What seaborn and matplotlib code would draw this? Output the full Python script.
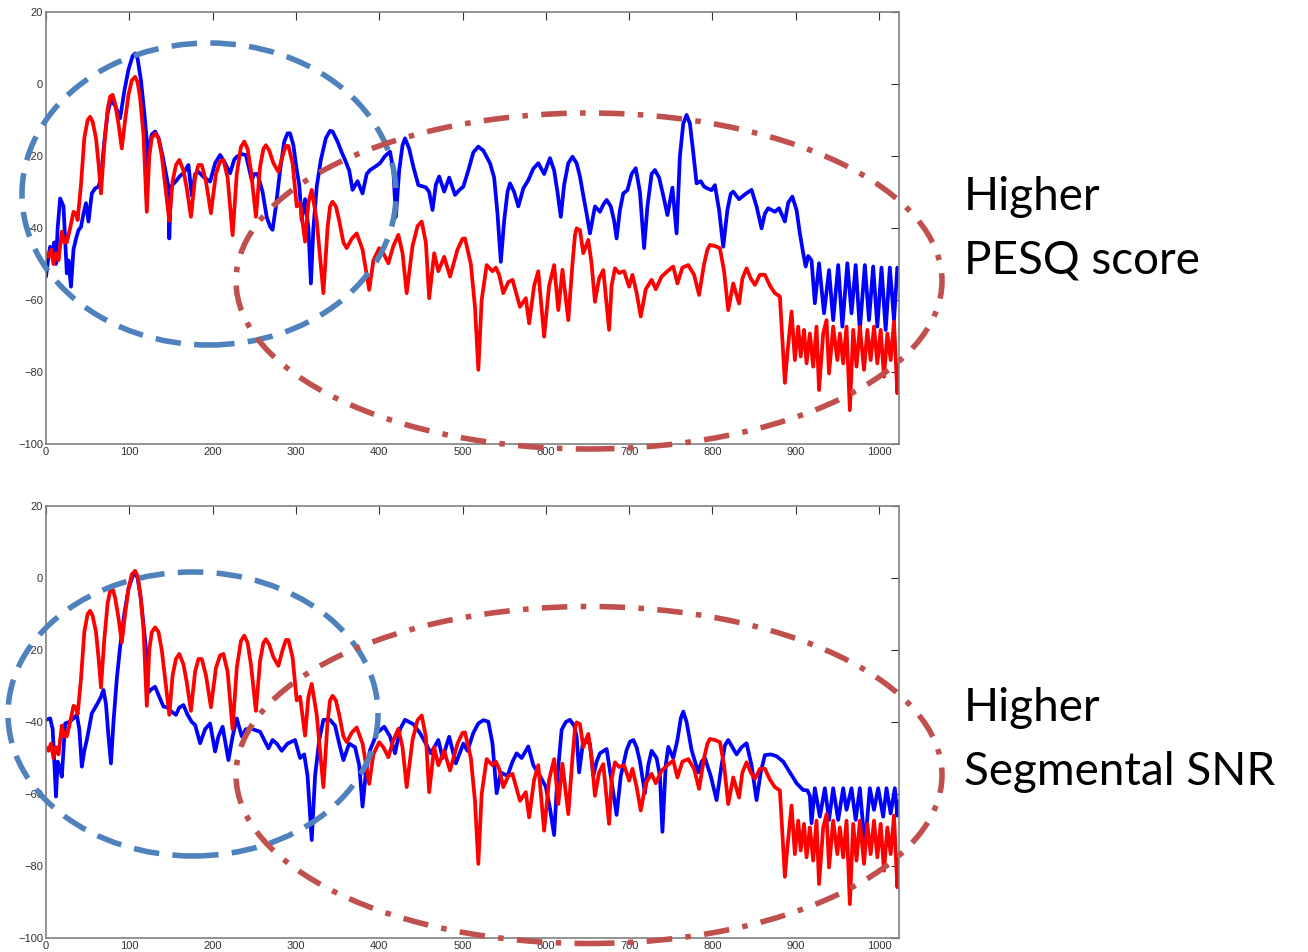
import matplotlib
matplotlib.use("Agg")
import matplotlib.pyplot as plt
from matplotlib.patches import Ellipse
import seaborn as sns
import pandas as pd

# ---------------- data ----------------
red_points = [
    (0, -47), (3, -48), (6, -46), (9, -50), (12, -47), (15, -49), (19, -41), (22, -44),
    (25, -44), (29, -40), (33, -35.5), (36, -36), (38, -37.8), (42, -28), (46, -15),
    (50, -10), (53, -9.1), (56, -10.5), (60, -15), (63, -22), (66, -30.4), (70, -17),
    (74, -7), (77, -3.5), (80, -3), (83, -5.5), (87, -11), (91, -17.9), (95, -10),
    (99, -3), (103, 1), (107, 2), (110, 0.5), (113, -4), (117, -14), (121, -35.5),
    (124, -20), (127, -15), (131, -13.7), (135, -15), (139, -20), (143, -28), (148, -38),
    (152, -27), (156, -22.5), (160, -21.1), (165, -24), (169, -29), (174, -36.9),
    (179, -26), (183, -22.5), (187, -22.5), (192, -27), (198, -35.9), (204, -25),
    (209, -21.5), (213, -21.1), (218, -26), (224, -42), (229, -25), (234, -17.5),
    (238, -16), (242, -18), (246, -24), (252, -36.9), (257, -23), (261, -18),
    (264, -17), (268, -18.5), (273, -22), (279, -24.4), (284, -20), (288, -17.2),
    (291, -17.2), (296, -22), (301, -34), (305, -33), (311, -43.8), (315, -33),
    (319, -29.4), (325, -38), (333, -58.1), (338, -40), (341, -34), (344, -32.7),
    (348, -34), (352, -38), (357, -44), (361, -45.6), (367, -43), (373, -41.5),
    (380, -46), (388, -57.2), (393, -49), (400, -45.6), (405, -47), (411, -49.8),
    (417, -45), (423, -41.9), (428, -47), (433, -58.1), (440, -45), (446, -39.5),
    (451, -38.2), (456, -44), (460, -59.5), (466, -47), (471, -52), (478, -48),
    (485, -53.5), (494, -46), (500, -43), (503, -42.9), (510, -50), (515, -62),
    (519, -79.4), (523, -60), (529, -50.3), (536, -52), (540, -51), (544, -53),
    (549, -58.1), (555, -55), (560, -54.4), (569, -61.9), (576, -59.5), (580, -66.5),
    (586, -56), (591, -52), (598, -70.2), (604, -56), (610, -50.3), (615, -62.8),
    (620, -51.6), (627, -65.6), (632, -50), (635, -42), (637, -40.1), (641, -40.6),
    (645, -47), (651, -43.3), (655, -50), (659, -60.5), (664, -54), (669, -51.7),
    (676, -68.3), (679, -56), (683, -51.2), (688, -52.5), (694, -52), (700, -56.3),
    (704, -53), (709, -58), (714, -64.6), (720, -57), (727, -54.4), (732, -57),
    (739, -53.5), (746, -52), (753, -50.7), (758, -55.4), (764, -51), (771, -50.3),
    (778, -53), (784, -58.6), (790, -50), (794, -46), (797, -44.7), (803, -45),
    (809, -45.6), (814, -52), (819, -62.8), (825, -55.4), (832, -61), (836, -54),
    (841, -51.2), (846, -54), (851, -55.8), (857, -53), (863, -53), (869, -56),
    (875, -58.1), (881, -59), (887, -83), (890, -74.8), (895, -63.2), (899, -76.7),
    (903, -67.4), (906, -75.7), (910, -68.3), (913, -77.6), (917, -69.3), (921, -78.5),
    (925, -67.4), (928, -85), (933, -69.3), (937, -65.6), (940, -80.4), (945, -67.4),
    (950, -76.7), (953, -69.3), (957, -77.6), (961, -67.4), (965, -90.6), (969, -68.3),
    (973, -78.5), (977, -67.4), (982, -79.4), (986, -68.3), (990, -76.7), (994, -67.4),
    (998, -77.6), (1002, -68.3), (1006, -81.3), (1010, -69.3), (1014, -76.7),
    (1018, -66), (1022, -85.9), (1024, -78),
]

blue_top_points = [
    (0, -53.5), (3, -48), (5, -45.2), (8, -47), (10, -44), (12, -50), (14, -40),
    (17, -31.8), (21, -34), (25, -52.6), (27, -49), (30, -56.3), (33, -46), (36, -43),
    (39, -40.6), (42, -39.7), (45, -36), (48, -33.1), (51, -38.2), (55, -30.4),
    (59, -29), (63, -28.5), (66, -26), (70, -16), (74, -8), (78, -4.4), (83, -6),
    (89, -9.5), (94, -2), (99, 4), (104, 7.8), (107, 8.5), (110, 7), (114, 1),
    (118, -8), (121, -15.6), (122, -24), (124, -18), (127, -14), (131, -13.2),
    (135, -15), (140, -20), (145, -26), (147, -28.5), (148, -42.9), (150, -28.5),
    (156, -27), (161, -25.5), (165, -24.8), (171, -22.5), (175, -31), (179, -25),
    (183, -24.4), (190, -26), (197, -27.1), (203, -22), (209, -19.7), (215, -22),
    (221, -24.8), (226, -21), (229, -20.2), (235, -19.5), (240, -19.7), (247, -26.7),
    (250, -25), (254, -25), (260, -30), (265, -37), (269, -39.6), (272, -40.5),
    (276, -34), (281, -24), (286, -16), (290, -13.7), (293, -13.7), (297, -17),
    (301, -23.9), (304, -28), (307, -37.8), (311, -32), (315, -40), (318, -55.4),
    (321, -40), (325, -28.5), (330, -21), (336, -15), (341, -13), (344, -13.2),
    (350, -16), (355, -19), (359, -21.1), (364, -24), (368, -29.4), (374, -27),
    (380, -30.4), (385, -25), (389, -23.9), (395, -23), (401, -22), (407, -20),
    (413, -18.8), (417, -24), (420, -36.9), (424, -24), (428, -17), (431, -15.1),
    (436, -18), (441, -23), (447, -28.1), (456, -28.7), (460, -30), (464, -35),
    (468, -28), (472, -25.7), (478, -29.9), (484, -26), (491, -30.8), (496, -29.5),
    (501, -28.5), (507, -24), (513, -19), (519, -17.4), (525, -18.5), (533, -22),
    (538, -26), (542, -36), (546, -49.4), (550, -38), (554, -30), (557, -27.6),
    (562, -30), (567, -34), (573, -29), (579, -26.7), (585, -23.5), (591, -22),
    (598, -25), (605, -20.6), (610, -24), (614, -30), (618, -36.9), (622, -28),
    (627, -22), (632, -20.2), (637, -22), (641, -25.7), (645, -31), (649, -36),
    (653, -41.5), (659, -34), (665, -35.5), (669, -33.5), (673, -32.2), (678, -34),
    (682, -38), (685, -42.9), (689, -35), (693, -30.4), (698, -29.5), (703, -25),
    (708, -23.4), (713, -30), (718, -45.6), (722, -34), (727, -25), (731, -23.9),
    (736, -26), (741, -31), (746, -36.4), (752, -28.8), (757, -41.5), (761, -20),
    (765, -11), (769, -8.6), (773, -11), (777, -19), (781, -27.6), (786, -27),
    (790, -28.5), (794, -29), (799, -29.5), (803, -28.1), (808, -35), (813, -45.2),
    (818, -35), (822, -30.5), (825, -29.9), (832, -32), (840, -30.5), (847, -29.4),
    (853, -34), (859, -40.1), (863, -36), (867, -34.5), (875, -35.5), (880, -34.5),
    (887, -38.2), (891, -33), (896, -31.3), (901, -35), (905, -41.5), (909, -47),
    (912, -50.7), (915, -47.8), (919, -49), (923, -60.9), (928, -49.8), (934, -63.7),
    (940, -51.7), (945, -65.6), (951, -50.3), (956, -67.4), (962, -49.8), (967, -63.7),
    (972, -50.3), (977, -68.3), (983, -50.3), (988, -65.6), (993, -50.7), (998, -67.4),
    (1003, -51), (1008, -68.3), (1013, -51), (1018, -65.6), (1022, -51), (1024, -52),
]

blue_bottom_points = [
    (0, -39.4), (5, -39), (8, -42), (12, -60.7), (14, -51), (17, -53), (19, -55.2),
    (23, -40.4), (28, -40), (33, -39), (37, -38), (40, -42), (43, -52.4), (46, -48),
    (49, -45), (55, -37.6), (62, -34.8), (66, -33), (69, -31.1), (72, -35), (75, -44),
    (78, -51.5), (81, -40), (85, -28), (89, -19.1), (94, -10), (99, -3), (104, 0.5),
    (107, 1.3), (110, 0), (114, -6), (118, -15), (121, -21.9), (122, -32), (126, -31),
    (131, -30.2), (136, -33), (141, -35.7), (146, -36), (150, -37), (156, -38),
    (160, -36), (165, -35.3), (170, -38), (175, -40), (179, -40.8), (185, -45.9),
    (191, -42), (197, -40.4), (203, -48.2), (207, -44), (212, -41.3), (219, -50.6),
    (224, -44), (229, -39), (235, -44), (240, -42), (248, -42), (257, -42.7),
    (262, -45), (267, -47.3), (272, -45), (277, -46), (283, -48), (290, -46),
    (299, -45), (305, -50), (310, -49), (314, -55), (319, -72.8), (323, -55),
    (328, -45), (333, -39.4), (341, -39.4), (347, -41), (352, -46), (357, -50.6),
    (364, -46), (371, -47), (376, -52), (380, -63.5), (384, -54), (389, -47.8),
    (394, -45), (397, -43.1), (406, -41.3), (413, -44), (419, -48.7), (425, -42),
    (431, -39.4), (441, -40.6), (449, -43.1), (456, -46), (462, -48.7), (471, -45),
    (476, -50), (484, -44.1), (492, -51.5), (501, -46), (506, -48), (513, -43),
    (519, -40.4), (525, -39.5), (531, -39.9), (536, -46), (541, -59.8), (546, -54),
    (554, -55), (560, -51), (565, -48.7), (571, -50), (579, -46.8), (585, -52),
    (593, -55), (600, -58), (605, -64), (610, -71.4), (614, -55), (619, -42.2),
    (624, -40), (629, -39.4), (634, -41), (637, -44), (640, -54), (645, -45),
    (653, -46), (657, -55), (661, -51), (665, -48.7), (673, -47.5), (678, -55),
    (685, -65.8), (690, -55), (697, -47.8), (701, -45.5), (705, -45), (709, -47),
    (713, -51), (719, -59.8), (723, -52), (727, -48), (733, -50), (737, -55),
    (740, -70.5), (744, -52), (747, -46.9), (753, -50), (758, -45), (762, -39),
    (765, -37.1), (769, -40), (775, -47.8), (783, -54), (787, -51), (791, -50),
    (798, -55), (805, -61.7), (811, -52), (815, -46.5), (819, -45), (824, -47),
    (829, -49), (835, -47), (841, -45.9), (847, -52), (853, -61.7), (858, -54),
    (863, -49.2), (870, -49), (877, -49.5), (885, -51), (893, -54), (901, -57),
    (909, -58.9), (914, -59), (917, -60.5), (919, -68.1), (923, -58.4), (929, -66.3),
    (935, -58.4), (940, -67.2), (945, -58.4), (951, -67.2), (957, -58.4), (961, -64.4),
    (967, -58.4), (972, -67.2), (977, -58.4), (983, -74.6), (989, -58.4), (994, -64.4),
    (999, -58.4), (1005, -66.3), (1009, -58.4), (1014, -65.4), (1019, -58.4),
    (1022, -66), (1024, -62),
]

x_ticks = [0, 100, 200, 300, 400, 500, 600, 700, 800, 900, 1000]
y_ticks = [20, 0, -20, -40, -60, -80, -100]
panel_texts = [("Higher", "PESQ score"), ("Higher", "Segmental SNR")]

# ---------------- figure ----------------
sns.set_style("white")
plt.rcParams["font.family"] = ["Liberation Sans", "DejaVu Sans"]

W, H = 1308, 952
fig = plt.figure(figsize=(W / 100, H / 100), dpi=100)
fig.patch.set_facecolor("white")

def px_axes(left, top, right, bottom):
    return fig.add_axes([left / W, 1 - bottom / H, (right - left) / W, (bottom - top) / H])

ax_top = px_axes(46, 12, 899, 444)
ax_bot = px_axes(46, 506, 899, 938)

red_df = pd.DataFrame(red_points, columns=["bin", "db"])
blue_dfs = [pd.DataFrame(blue_top_points, columns=["bin", "db"]),
            pd.DataFrame(blue_bottom_points, columns=["bin", "db"])]

for ax, bdf in zip([ax_top, ax_bot], blue_dfs):
    sns.lineplot(data=bdf, x="bin", y="db", ax=ax, color="#0000ff", lw=2.7,
                 estimator=None, sort=False, solid_joinstyle="round")
    sns.lineplot(data=red_df, x="bin", y="db", ax=ax, color="#ff0000", lw=2.7,
                 estimator=None, sort=False, solid_joinstyle="round")
    ax.set_xlim(0, 1024)
    ax.set_ylim(-100, 20)
    ax.set_xticks(x_ticks)
    ax.set_yticks(y_ticks)
    ax.set_xlabel("")
    ax.set_ylabel("")
    ax.grid(False)
    for s in ax.spines.values():
        s.set_visible(True)
        s.set_color("#808080")
        s.set_linewidth(1.2)
    ax.tick_params(direction="in", length=6, width=0.8, color="#333333",
                   labelsize=8, labelcolor="#333333", pad=2,
                   top=True, right=True)

# ---------------- ellipses (annotations, pixel geometry) ----------------
def ell(cx, cy, w, h, color, ls):
    e = Ellipse((cx / W, 1 - cy / H), w / W, h / H, transform=fig.transFigure,
                fill=False, edgecolor=color, linewidth=4.0, linestyle=ls,
                capstyle="butt", zorder=5)
    fig.add_artist(e)

blue_ls = (0, (4.6, 2.4))
red_ls = (0, (4.6, 2.4, 1.0, 2.4))
ell(209, 194, 374, 302, "#4f81bd", blue_ls)
ell(589, 281, 706, 336, "#c0504d", red_ls)
ell(193, 714, 370, 284, "#4f81bd", blue_ls)
ell(589, 775, 706, 337, "#c0504d", red_ls)

# ---------------- side texts ----------------
for (l1, l2), (b1, b2) in zip(panel_texts, [(210, 274), (721, 785)]):
    fig.text(964 / W, 1 - b1 / H, l1, fontsize=33, family="Lato", va="baseline",
             ha="left", color="black")
    fig.text(964 / W, 1 - b2 / H, l2, fontsize=33, family="Lato", va="baseline",
             ha="left", color="black")

fig.savefig("out.png", dpi=100, facecolor="white")
